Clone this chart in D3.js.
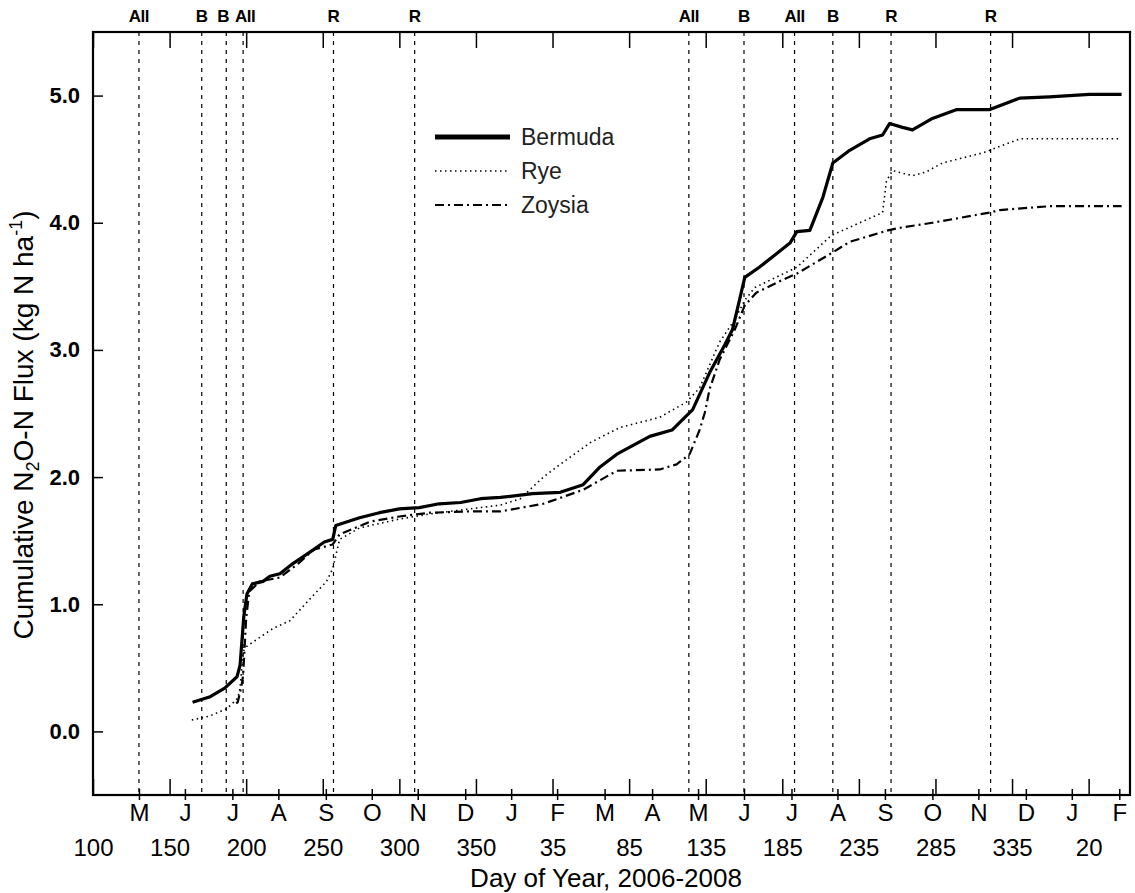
<!DOCTYPE html>
<html>
<head>
<meta charset="utf-8">
<script src="https://cdn.jsdelivr.net/npm/d3@7"></script>
<style>
  body { margin: 0; background: #fff; }
  svg { display: block; font-family: Arial, "Liberation Sans", sans-serif; }
</style>
</head>
<body>
<div id="chart"></div>
<script>
// day of year runs on from 2006: 400 = 2007 day 35, 750 = 2008 day 20
let bermuda = [
  [165, 0.23], [176, 0.27], [186, 0.34], [194, 0.43], [196, 0.52], [198.5, 0.91], [200.5, 1.08],
  [204, 1.16], [211, 1.18], [215.5, 1.22], [222, 1.24], [230.5, 1.32], [244, 1.43], [251, 1.49],
  [256.5, 1.51], [258.5, 1.62], [274, 1.68], [287, 1.72], [300, 1.75], [313, 1.76], [326, 1.79],
  [340, 1.80], [353, 1.83], [366, 1.84], [387, 1.87], [405, 1.88], [420, 1.94], [431, 2.08],
  [442, 2.18], [463.5, 2.32], [478, 2.37], [491.5, 2.53], [502.5, 2.82], [512.5, 3.04], [517.5, 3.16],
  [522, 3.39], [525.5, 3.57], [535, 3.65], [555, 3.84], [559.5, 3.93], [568, 3.94], [576.5, 4.20],
  [583, 4.47], [594, 4.57], [607, 4.66], [615.5, 4.69], [620, 4.78], [628.5, 4.75], [635, 4.73],
  [648, 4.82], [664, 4.89], [685.5, 4.89], [705, 4.98], [724.5, 4.99], [750.5, 5.01], [771.5, 5.01]
]
let rye = [
  [164.5, 0.09], [176, 0.12], [187.5, 0.18], [194.5, 0.26], [196, 0.34], [198, 0.63], [200.5, 0.67],
  [217.5, 0.81], [228.5, 0.87], [241.5, 1.04], [252.5, 1.18], [256.5, 1.28], [261, 1.51], [274, 1.60],
  [300, 1.67], [320, 1.71], [346, 1.75], [366, 1.78], [379, 1.83], [394, 2.00], [405, 2.10],
  [424.5, 2.27], [444, 2.39], [470, 2.47], [487.5, 2.59], [496, 2.70], [509, 3.06], [519, 3.24],
  [525.5, 3.39], [532, 3.49], [559.5, 3.65], [582, 3.90], [615.5, 4.08], [618, 4.33], [622, 4.41],
  [635, 4.37], [644, 4.40], [654.5, 4.47], [681, 4.55], [685.5, 4.57], [705, 4.66], [716, 4.66],
  [730, 4.66], [771.5, 4.66]
]
let zoysia = [
  [193.5, 0.22], [194.5, 0.23], [197, 0.36], [198, 0.44], [200, 0.89], [202, 1.10], [209, 1.18],
  [222, 1.21], [235, 1.33], [244, 1.43], [256.5, 1.47], [261, 1.55], [281, 1.65], [300, 1.69],
  [320, 1.72], [346, 1.73], [366, 1.73], [394, 1.79], [420, 1.90], [442, 2.05], [470, 2.06],
  [481, 2.10], [489.5, 2.18], [496, 2.37], [499.5, 2.51], [502.5, 2.69], [509, 2.92], [519, 3.16],
  [525.5, 3.35], [533, 3.45], [550, 3.55], [559.5, 3.60], [582, 3.76], [594, 3.85], [619, 3.94],
  [626.5, 3.96], [648, 4.00], [685.5, 4.08], [692, 4.10], [724.5, 4.13], [771.5, 4.13]
]

// management events (vertical dashed lines)
let eventDays = [130, 171, 187, 198, 257, 310, 489, 525, 558, 583, 621, 686]
let eventLabels = ["All", "B", "B", "All", "R", "R", "All", "B", "All", "B", "R", "R"]

let dayTicks = [100, 150, 200, 250, 300, 350, 400, 450, 500, 550, 600, 650, 700, 750]
let dayLabels = ["100", "150", "200", "250", "300", "350", "35", "85", "135", "185", "235", "285", "335", "20"]
let monthDays = [130, 160, 191, 221, 252, 282, 312, 343, 373, 403, 434, 465, 495, 525, 556, 586, 617, 648, 678, 709, 739, 770]
let monthLabels = ["M", "J", "J", "A", "S", "O", "N", "D", "J", "F", "M", "A", "M", "J", "J", "A", "S", "O", "N", "D", "J", "F"]
let yTicks = [0, 1, 2, 3, 4, 5]

let series = [
  {name: "Bermuda", data: bermuda, width: 3.2, dash: null},
  {name: "Rye", data: rye, width: 1.6, dash: "1.5,3.5"},
  {name: "Zoysia", data: zoysia, width: 2.2, dash: "9,4,2,4"}
]

let margin = {top: 32, right: 5, bottom: 98, left: 93}
let width = 1135 - margin.left - margin.right
let height = 893 - margin.top - margin.bottom
let font = "Arial, 'Liberation Sans', sans-serif"

let svg = d3.select("#chart")
    .append("svg")
    .attr("width", 1135)
    .attr("height", 893)
    .append("g")
    .attr("transform", "translate(" + margin.left + "," + margin.top + ")")

let x = d3.scaleLinear().domain([100, 777]).range([0, width])
let y = d3.scaleLinear().domain([-0.5, 5.5]).range([height, 0])

// event lines
svg.selectAll(".event")
    .data(eventDays)
    .enter()
    .append("line")
    .attr("x1", d => x(d)).attr("x2", d => x(d))
    .attr("y1", 0).attr("y2", height)
    .attr("stroke", "#000")
    .attr("stroke-width", 1.2)
    .attr("stroke-dasharray", "4,5")

svg.selectAll(".evlabel")
    .data(eventDays)
    .enter()
    .append("text")
    .attr("x", (d, i) => x(d) + (i === 2 ? -3 : 0) + (i === 3 ? 2 : 0))
    .attr("y", -10)
    .attr("text-anchor", "middle")
    .style("font-size", "17px")
    .style("font-weight", "bold")
    .style("letter-spacing", "-0.5px")
    .text((d, i) => eventLabels[i])

// frame
svg.append("rect")
    .attr("width", width).attr("height", height)
    .attr("fill", "none").attr("stroke", "#000").attr("stroke-width", 2.2)

// numbered day ticks, inward at bottom and top
svg.append("g")
    .attr("transform", "translate(0," + height + ")")
    .call(d3.axisBottom(x).tickValues(dayTicks).tickSize(-16).tickFormat((d, i) => dayLabels[i]).tickPadding(44))
    .call(g => g.select(".domain").remove())
    .call(g => g.selectAll("line").attr("stroke-width", 1.5))
    .call(g => g.selectAll("text").style("font-size", "24px").style("font-family", font))

svg.append("g")
    .call(d3.axisTop(x).tickValues(dayTicks).tickSize(-16).tickFormat(""))
    .call(g => g.select(".domain").remove())
    .call(g => g.selectAll("line").attr("stroke-width", 1.5))

// month ticks
svg.append("g")
    .attr("transform", "translate(0," + height + ")")
    .call(d3.axisBottom(x).tickValues(monthDays).tickSize(5).tickFormat((d, i) => monthLabels[i]).tickPadding(4))
    .call(g => g.select(".domain").remove())
    .call(g => g.selectAll("line").attr("y1", -6).attr("stroke-width", 1.5))
    .call(g => g.selectAll("text").style("font-size", "24px").style("font-family", font))

// y axis
svg.append("g")
    .call(d3.axisLeft(y).tickValues(yTicks).tickSize(-10).tickPadding(13).tickFormat(d3.format(".1f")))
    .call(g => g.select(".domain").remove())
    .call(g => g.selectAll("line").attr("stroke-width", 1.5))
    .call(g => g.selectAll("text").style("font-size", "22px").style("font-weight", "bold").style("font-family", font))

// lines
let line = d3.line().x(d => x(d[0])).y(d => y(d[1]))
series.forEach(s => {
    svg.append("path")
        .datum(s.data)
        .attr("d", line)
        .attr("fill", "none")
        .attr("stroke", "#000")
        .attr("stroke-width", s.width)
        .attr("stroke-dasharray", s.dash)
        .attr("stroke-linejoin", "round")
})

// legend
let legend = svg.append("g").attr("transform", "translate(" + (435 - margin.left) + "," + (137 - margin.top) + ")")
series.forEach((s, i) => {
    legend.append("line")
        .attr("x1", 0).attr("x2", 75)
        .attr("y1", i * 34).attr("y2", i * 34)
        .attr("stroke", "#000")
        .attr("stroke-width", i === 0 ? 5 : s.width)
        .attr("stroke-dasharray", s.dash)
    legend.append("text")
        .attr("x", 86).attr("y", i * 34 + 8)
        .style("font-size", "23px")
        .style("fill", "#222")
        .text(s.name)
})

// axis titles
svg.append("text")
    .attr("x", 606 - margin.left)
    .attr("y", height + 92)
    .attr("text-anchor", "middle")
    .style("font-size", "26px")
    .text("Day of Year, 2006-2008")

let ytitle = svg.append("text")
    .attr("transform", "translate(" + (-60) + "," + (425 - margin.top) + ") rotate(-90)")
    .attr("text-anchor", "middle")
    .style("font-size", "28px")
ytitle.append("tspan").text("Cumulative N")
ytitle.append("tspan").attr("dy", 6).style("font-size", "18px").text("2")
ytitle.append("tspan").attr("dy", -6).text("O-N Flux (kg N ha")
ytitle.append("tspan").attr("dy", -11).style("font-size", "18px").text("-1")
ytitle.append("tspan").attr("dy", 11).text(")")
</script>
</body>
</html>
